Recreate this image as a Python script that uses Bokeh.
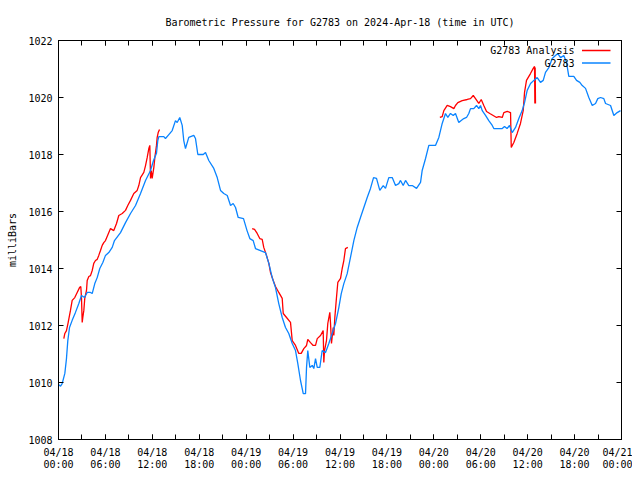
from bokeh.plotting import figure
from bokeh.models import LinearAxis, FixedTicker, Label, BoxAnnotation, Range1d
from bokeh.embed import file_html
from bokeh.resources import INLINE

NaN = float("nan")

TITLE = "Barometric Pressure for G2783 on 2024-Apr-18 (time in UTC)"
Y_LABEL = "milliBars"
SERIES_NAMES = ["G2783 Analysis", "G2783"]

# hours since 2024-04-18 00:00 UTC
blue_hours = [0.0,0.26,0.47,0.81,1.02,1.19,1.41,1.75,2.17,2.6,
              2.94,3.33,3.67,4.09,4.31,4.64,4.95,5.28,5.67,6.01,
              6.43,6.87,7.16,7.93,8.57,9.21,9.85,10.49,11.13,11.77,
              12.15,12.53,12.7,12.83,13.47,13.68,14.11,14.54,14.96,15.18,
              15.51,15.82,16.02,16.24,16.66,17.3,17.52,17.82,18.51,18.8,
              19.22,19.86,20.3,20.72,21.14,21.58,22.0,22.34,22.64,22.98,
              23.66,24.11,24.47,24.9,25.19,25.83,26.47,26.9,27.33,27.75,
              28.17,28.61,29.03,29.45,29.89,30.31,30.6,30.95,31.3,31.59,
              31.72,31.88,32.14,32.45,32.65,32.87,33.09,33.42,33.72,34.15,
              34.57,35.0,35.43,35.85,36.16,36.49,36.92,37.34,37.77,38.2,
              38.62,39.05,39.48,39.9,40.29,40.67,41.09,41.53,41.82,42.24,
              42.68,43.1,43.52,43.74,44.08,44.38,44.8,45.24,45.79,46.3,
              46.51,46.94,47.36,48.21,48.64,49.07,49.49,49.79,50.13,50.48,
              50.77,51.19,51.5,51.83,52.18,52.47,52.69,53.11,53.46,53.75,
              53.97,54.19,54.61,55.03,55.47,55.67,56.75,57.04,57.36,57.68,
              58.02,58.45,58.87,59.3,59.6,59.94,60.37,60.79,61.22,61.64,
              61.99,62.28,62.71,63.14,63.56,63.86,64.2,64.62,64.97,65.26,
              65.9,66.25,66.67,66.98,67.4,67.82,68.26,68.68,68.97,69.32,
              69.74,69.96,70.6,71.02,71.45,71.87]
blue_mb = [1009.93,1009.87,1009.96,1010.32,1010.84,1011.47,1011.93,1012.18,1012.46,1012.77,
           1013.05,1012.98,1013.16,1013.16,1013.12,1013.47,1013.68,1014.0,1014.21,1014.46,
           1014.56,1014.74,1014.98,1015.26,1015.61,1015.93,1016.21,1016.63,1017.09,1017.44,
           1017.79,1018.04,1018.49,1018.63,1018.63,1018.56,1018.7,1018.84,1019.19,1019.12,
           1019.3,1019.02,1018.49,1018.21,1018.6,1018.67,1018.56,1018.0,1018.0,1018.07,
           1017.79,1017.51,1017.19,1016.74,1016.63,1016.56,1016.21,1016.28,1016.14,1015.79,
           1015.75,1015.33,1015.05,1014.98,1014.7,1014.63,1014.56,1014.18,1013.68,1013.33,
           1012.77,1012.28,1011.93,1011.72,1011.37,1011.12,1010.67,1010.07,1009.61,1009.61,
           1010.53,1011.12,1010.53,1010.6,1010.49,1010.84,1010.53,1010.53,1011.12,1011.05,
           1011.37,1011.72,1012.07,1012.63,1013.12,1013.47,1013.82,1014.39,1014.98,1015.44,
           1015.79,1016.14,1016.49,1016.81,1017.19,1017.16,1016.74,1016.91,1016.81,1017.19,
           1017.19,1016.91,1016.98,1017.09,1016.91,1017.09,1016.91,1016.91,1016.81,1017.02,
           1017.44,1017.86,1018.32,1018.32,1018.6,1019.09,1019.44,1019.3,1019.44,1019.37,
           1019.44,1019.12,1019.19,1019.26,1019.3,1019.44,1019.61,1019.61,1019.72,1019.61,
           1019.72,1019.54,1019.37,1019.19,1019.02,1018.91,1018.91,1018.98,1018.91,1019.02,
           1018.77,1018.95,1019.26,1019.54,1019.82,1020.25,1020.49,1020.6,1020.7,1020.53,
           1020.6,1020.88,1021.05,1021.37,1021.47,1021.54,1021.4,1021.47,1021.23,1020.74,
           1020.74,1020.6,1020.53,1020.42,1020.32,1020.0,1019.72,1019.79,1019.96,1020.0,
           1019.96,1019.79,1019.72,1019.37,1019.47,1019.54]

# analysis runs, separated by NaN gaps
red_hours = [0.68,0.81,1.02,1.24,1.53,1.75,2.08,2.39,2.69,2.85,
             2.94,3.03,3.11,3.24,3.36,3.58,3.67,3.88,4.09,4.31,
             4.51,4.73,4.95,5.15,5.37,5.59,5.79,6.01,6.65,7.07,
             7.42,7.71,8.15,8.57,8.86,9.21,9.63,10.06,10.27,10.49,
             10.91,11.13,11.34,11.55,11.68,11.77,11.86,11.98,12.19,12.32,
             12.53,12.62,12.75,12.92,
             18.0,
             24.77,25.07,25.41,25.74,26.05,26.25,26.6,26.9,27.11,27.46,
             27.75,28.17,28.61,28.74,29.16,29.67,29.89,30.31,30.73,31.04,
             31.37,31.72,31.88,32.23,32.57,32.87,33.09,33.51,33.85,33.93,
             34.02,34.27,34.44,34.7,34.79,34.91,35.13,35.21,35.34,35.55,
             35.72,36.07,36.28,36.49,36.7,37.0,
             42.0,
             48.77,49.07,49.28,49.71,50.13,50.56,50.77,51.07,51.63,52.27,
             52.69,53.04,53.33,53.75,54.06,54.39,54.74,55.16,55.59,56.02,
             56.31,56.75,56.95,57.39,57.81,57.9,58.23,58.66,59.08,59.43,
             59.6,59.85,60.36,60.71,60.88,60.92,60.96,61.0]
red_mb = [1011.54,1011.72,1011.82,1012.11,1012.53,1012.88,1012.98,1013.16,1013.33,1013.37,
          1012.98,1012.11,1012.28,1012.53,1012.95,1013.23,1013.58,1013.72,1013.75,1013.93,
          1014.18,1014.28,1014.32,1014.46,1014.63,1014.81,1014.91,1014.98,1015.4,1015.33,
          1015.58,1015.86,1015.93,1016.04,1016.21,1016.39,1016.63,1016.74,1016.91,1017.19,
          1017.37,1017.61,1017.89,1018.21,1018.32,1017.16,1017.44,1017.16,1017.54,1017.89,
          1018.32,1018.6,1018.77,1018.88,
          NaN,
          1015.4,1015.37,1015.23,1015.05,1015.02,1014.74,1014.46,1014.18,1013.86,1013.58,
          1013.37,1013.16,1012.95,1012.42,1012.28,1012.11,1011.47,1011.3,1011.02,1011.02,
          1011.19,1011.3,1011.51,1011.4,1011.3,1011.3,1011.54,1011.65,1011.82,1010.7,
          1011.12,1011.47,1012.07,1012.46,1012.07,1011.37,1011.93,1011.65,1012.28,1012.98,
          1013.51,1013.65,1014.0,1014.28,1014.7,1014.74,
          NaN,
          1019.3,1019.33,1019.54,1019.72,1019.68,1019.61,1019.72,1019.82,1019.89,1019.93,
          1019.96,1020.07,1019.96,1019.79,1019.93,1019.72,1019.51,1019.44,1019.37,1019.3,
          1019.33,1019.3,1019.47,1019.51,1019.47,1018.25,1018.42,1018.74,1019.09,1019.54,
          1020.18,1020.6,1020.84,1021.02,1021.09,1019.79,1021.05,1019.79]

tick_hours = [0, 6, 12, 18, 24, 30, 36, 42, 48, 54, 60, 66, 72]
tick_labels = ["04/18\n00:00", "04/18\n06:00", "04/18\n12:00", "04/18\n18:00",
               "04/19\n00:00", "04/19\n06:00", "04/19\n12:00", "04/19\n18:00",
               "04/20\n00:00", "04/20\n06:00", "04/20\n12:00", "04/20\n18:00",
               "04/21\n00:00"]
minor_hours = [0, 3, 6, 9, 12, 15, 18, 21, 24, 27, 30, 33, 36, 39, 42, 45, 48,
               51, 54, 57, 60, 63, 66, 69, 72]
y_ticks = [1008, 1010, 1012, 1014, 1016, 1018, 1020, 1022]

FONT = "DejaVu Sans Mono"
FS = "10px"
RED = "#ff0000"
BLUE = "#0a84ff"

p = figure(width=632, height=472, x_range=Range1d(0, 72), y_range=Range1d(1008, 1022),
           output_backend="svg", toolbar_location=None,
           x_axis_location=None, y_axis_location=None,
           min_border_left=58, min_border_right=11, min_border_top=40, min_border_bottom=33)
p.grid.grid_line_color = None
p.outline_line_color = "black"
p.outline_line_width = 1
p.background_fill_color = "white"
p.border_fill_color = "white"

p.title.text = TITLE
p.title.text_font = FONT
p.title.text_font_size = FS
p.title.text_font_style = "normal"
p.title.align = "center"
p.title.text_color = "black"
p.title.standoff = 25


def style(ax):
    ax.axis_line_color = "black"
    ax.major_tick_in = 5
    ax.major_tick_out = 0
    ax.minor_tick_in = 5
    ax.minor_tick_out = 0
    ax.major_tick_line_color = "black"
    ax.minor_tick_line_color = "black"
    ax.major_label_text_font = FONT
    ax.major_label_text_font_size = FS
    ax.major_label_text_color = "black"


def mirror(ax):
    style(ax)
    ax.major_label_text_font_size = "0px"
    ax.major_label_standoff = 0
    ax.axis_label_standoff = 0


xt = FixedTicker(ticks=tick_hours, minor_ticks=minor_hours)
yt = FixedTicker(ticks=y_ticks, minor_ticks=[])

bottom = LinearAxis(ticker=xt, major_label_overrides=dict(zip(tick_hours, tick_labels)))
style(bottom)
bottom.major_label_text_line_height = 1.1
bottom.major_label_standoff = 7
p.add_layout(bottom, "below")

top = LinearAxis(ticker=xt, major_label_overrides={t: "" for t in tick_hours})
mirror(top)
p.add_layout(top, "above")

left = LinearAxis(ticker=yt, axis_label=Y_LABEL)
style(left)
left.major_label_standoff = 6
left.axis_label_text_font = FONT
left.axis_label_text_font_size = FS
left.axis_label_text_font_style = "normal"
left.axis_label_text_color = "black"
left.axis_label_standoff = 7
p.add_layout(left, "left")

right = LinearAxis(ticker=yt, major_label_overrides={t: "" for t in y_ticks})
mirror(right)
p.add_layout(right, "right")

p.line(red_hours, red_mb, line_color=RED, line_width=1.3)
p.line(blue_hours, blue_mb, line_color=BLUE, line_width=1.3)

# legend (label left, sample right, as in the original)
for i, (name, col) in enumerate(zip(SERIES_NAMES, [RED, BLUE])):
    yy = 389 - 12.5 * i
    p.add_layout(Label(x=516, y=yy, x_units="screen", y_units="screen", text=name,
                       text_align="right", text_baseline="middle",
                       text_font=FONT, text_font_size=FS, text_color="black"))
    p.add_layout(BoxAnnotation(left=523.5, right=552, bottom=yy - 0.7, top=yy + 0.7,
                               left_units="screen", right_units="screen",
                               top_units="screen", bottom_units="screen",
                               fill_color=col, fill_alpha=1, line_color=None))

open("out.html", "w").write(file_html(p, INLINE))
